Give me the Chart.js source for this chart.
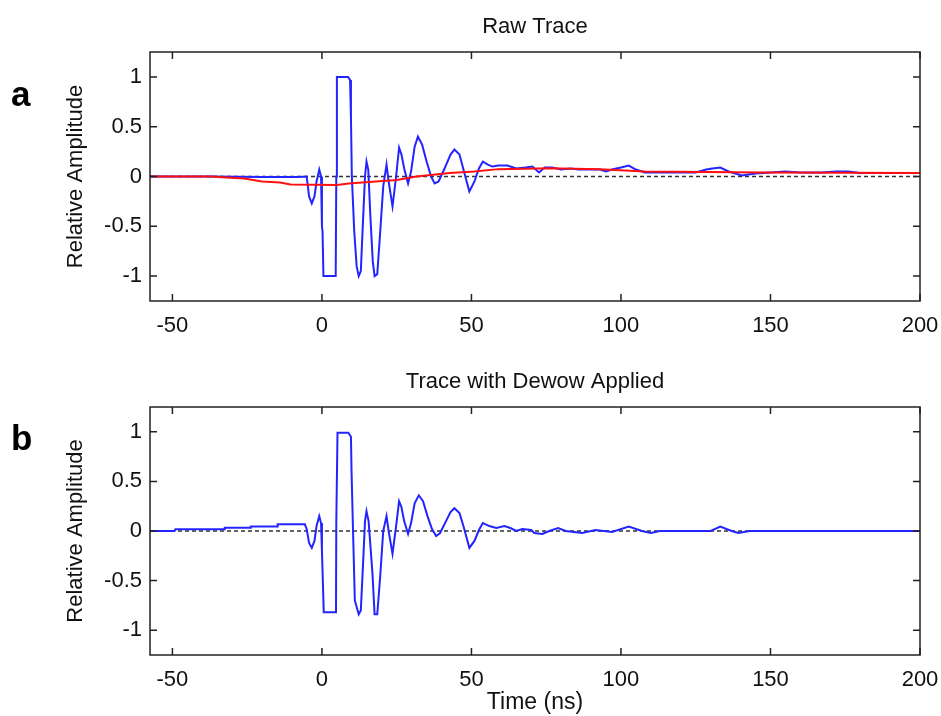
<!DOCTYPE html>
<html>
<head>
<meta charset="utf-8">
<script src="https://cdn.jsdelivr.net/npm/chart.js@4.4.1/dist/chart.umd.min.js"></script>
<style>
  html, body { margin: 0; padding: 0; background: #fff; }
  body { width: 941px; height: 716px; position: relative; overflow: hidden; }
  .wrap { position: absolute; left: 0; width: 941px; height: 358px; }
  .panel { position: absolute; left: 11px; font: bold 35px "Liberation Sans", Arial, sans-serif; color: #000; }
</style>
</head>
<body>
<div class="wrap" style="top:0"><canvas id="c1" width="941" height="358"></canvas></div>
<div class="wrap" style="top:358px"><canvas id="c2" width="941" height="358"></canvas></div>
<div class="panel" style="top:74px">a</div>
<div class="panel" style="top:418px">b</div>
<script>
// ---- data ----
const xRange = [-57.5, 200];
const yRange = [-1.25, 1.25];
const xTicks = [-50, 0, 50, 100, 150, 200];
const yTicks = [-1, -0.5, 0, 0.5, 1];

const timeRaw = [-57.5,-37,-20,-8,-5.1,-4.3,-3.4,-2.5,-1.8,-0.9,-0.3,0,0.2,0.5,4.6,4.8,5.0,8.7,9.4,9.7,10.0,10.8,11.6,12.3,13.0,13.8,14.4,14.9,15.5,16.2,17.0,17.6,18.5,19.5,20.5,21.6,22.3,23.6,24.8,25.8,26.6,27.5,28.8,29.8,31,32.1,33.5,35,36.5,37.7,39,41,43,44.3,46,47.5,49.3,51,52.5,53.8,55.5,57,59,62,65,68,70.4,72.6,74.5,77,80,83,86,89,93,95,97,100,102.6,105,108,113,120,125,128.5,130.5,133.2,136,140.4,145,150,155,160,167,172,176,180,190,200];
const ampRaw = [0,0,-0.005,-0.005,0,-0.2,-0.27,-0.2,-0.05,0.07,0,-0.5,-0.55,-1,-1,0,1,1,0.97,0.59,0,-0.55,-0.9,-1,-0.95,-0.4,0,0.15,0.07,-0.4,-0.85,-1,-0.98,-0.55,-0.1,0.12,-0.05,-0.3,0,0.29,0.22,0.08,-0.07,0.05,0.3,0.4,0.32,0.15,0,-0.07,-0.05,0.08,0.22,0.27,0.22,0.05,-0.15,-0.05,0.08,0.15,0.12,0.1,0.11,0.11,0.08,0.09,0.1,0.04,0.09,0.09,0.07,0.08,0.07,0.07,0.07,0.05,0.07,0.09,0.11,0.07,0.04,0.04,0.04,0.04,0.07,0.08,0.09,0.05,0.01,0.03,0.04,0.05,0.04,0.04,0.05,0.05,0.035,0.035,0.034];

const timeWow = [-57.5,-37,-32,-26,-20,-14,-10.5,5,9,18,25,31.6,42.7,51,59,76,93,108,148,200];
const ampWow = [0,0,-0.01,-0.02,-0.05,-0.06,-0.08,-0.085,-0.07,-0.05,-0.035,0,0.035,0.05,0.074,0.084,0.074,0.05,0.04,0.034];

const timeDewow = [-57.5,-49.3,-49,-32.7,-32.5,-24,-23.8,-15,-14.8,-5.7,-5.1,-4.3,-3.4,-2.5,-1.8,-0.9,-0.3,0,0.2,0.6,4.7,4.8,5.2,8.8,9.7,9.9,10.4,11.0,12.3,13.0,13.8,14.4,14.9,15.6,16.9,17.6,18.5,19.5,20.5,21.6,22.3,23.6,24.8,25.8,26.6,27.5,28.8,29.8,31,32.4,33.8,35.3,36.8,38.2,39.5,41.5,43,44.3,46,47.5,49.3,51,52.5,53.8,56,58.3,61,63,65,67,70,71,73.7,76,79,81.5,87,91.5,97,102.6,107,110,113,130,133.2,137,139.3,143,200];
const ampDewow = [0,0,0.017,0.017,0.033,0.033,0.045,0.045,0.067,0.067,0.02,-0.12,-0.17,-0.1,0.05,0.15,0.08,-0.2,-0.4,-0.82,-0.82,0.07,0.99,0.99,0.95,0.6,0,-0.7,-0.84,-0.8,-0.3,0.1,0.2,0.1,-0.43,-0.84,-0.84,-0.45,0,0.15,0,-0.23,0.05,0.3,0.24,0.1,-0.03,0.08,0.28,0.36,0.3,0.15,0.02,-0.05,-0.02,0.1,0.19,0.23,0.18,0.03,-0.17,-0.1,0.01,0.08,0.05,0.03,0.05,0.03,0,0.02,0.01,-0.02,-0.03,0,0.03,0,-0.02,0.01,-0.01,0.045,0,-0.02,0,0,0.045,0,-0.02,0,0];

const zeroTime = [-57.5, 200];
const zeroAmp = [0, 0];

// ---- helpers ----
function pts(xs, ys) {
  const n = Math.min(xs.length, ys.length);
  const out = [];
  for (let i = 0; i < n; i++) out.push({x: xs[i], y: ys[i]});
  return out;
}
const FONT = '"Liberation Sans", Arial, sans-serif';
const BLUE = '#2424ff', RED = '#ff1010';

const boxPlugin = {
  id: 'matlabBox',
  afterDatasetsDraw(chart) {
    const {ctx, chartArea: a, scales: {x, y}} = chart;
    ctx.save();
    ctx.strokeStyle = '#222';
    ctx.lineWidth = 1.5;
    ctx.beginPath();
    xTicks.forEach(v => {
      const px = x.getPixelForValue(v);
      ctx.moveTo(px, a.bottom); ctx.lineTo(px, a.bottom - 7);
      ctx.moveTo(px, a.top); ctx.lineTo(px, a.top + 7);
    });
    yTicks.forEach(v => {
      const py = y.getPixelForValue(v);
      ctx.moveTo(a.left, py); ctx.lineTo(a.left + 7, py);
      ctx.moveTo(a.right, py); ctx.lineTo(a.right - 7, py);
    });
    ctx.stroke();
    ctx.strokeRect(a.left, a.top, a.right - a.left, a.bottom - a.top);
    ctx.restore();
  }
};

function lineDs(data, color, width, dash) {
  return {
    data: data, borderColor: color, borderWidth: width, borderDash: dash || [],
    pointRadius: 0, tension: 0, fill: false, showLine: true
  };
}

function makeChart(id, datasets, titleText, titlePad, areaBottom, xTitle) {
  return new Chart(document.getElementById(id), {
    type: 'line',
    data: { datasets: datasets },
    plugins: [boxPlugin],
    options: {
      responsive: false,
      animation: false,
      events: [],
      layout: { padding: { left: 0, right: 21, top: 0, bottom: 0 } },
      plugins: {
        legend: { display: false },
        tooltip: { enabled: false },
        title: {
          display: true, fullSize: false, text: titleText, color: '#111',
          font: { family: FONT, size: 22, weight: 'normal', lineHeight: 1.2 },
          padding: titlePad
        }
      },
      scales: {
        x: {
          type: 'linear', min: xRange[0], max: xRange[1],
          grid: { display: true, drawOnChartArea: false, drawTicks: true, tickLength: 12, tickColor: 'rgba(0,0,0,0)' },
          border: { display: false },
          afterBuildTicks: s => { s.ticks = xTicks.map(v => ({value: v})); },
          afterFit: s => { s.height = 358 - areaBottom; },
          ticks: { color: '#111', padding: 0, maxRotation: 0, autoSkip: false,
                   font: { family: FONT, size: 22 }, callback: v => String(v) },
          title: { display: !!xTitle, text: xTitle || '', color: '#111',
                   font: { family: FONT, size: 23 }, padding: { top: 0, bottom: 0 } }
        },
        y: {
          type: 'linear', min: yRange[0], max: yRange[1],
          grid: { display: true, drawOnChartArea: false, drawTicks: true, tickLength: 8, tickColor: 'rgba(0,0,0,0)' },
          border: { display: false },
          afterBuildTicks: s => { s.ticks = yTicks.map(v => ({value: v})); },
          afterFit: s => { s.width = 150; },
          ticks: { color: '#111', padding: 0, autoSkip: false,
                   font: { family: FONT, size: 22 }, callback: v => String(v) },
          title: { display: true, text: 'Relative Amplitude', color: '#111',
                   font: { family: FONT, size: 22, lineHeight: 1.2 }, padding: { top: 63, bottom: 0 } }
        }
      }
    }
  });
}

makeChart('c1', [
  lineDs(pts(timeWow, ampWow), RED, 2),
  lineDs(pts(timeRaw, ampRaw), BLUE, 2),
  lineDs(pts(zeroTime, zeroAmp), '#333', 1.5, [4, 3])
], 'Raw Trace', { top: 13.8, bottom: 11.8 }, 301, null);

makeChart('c2', [
  lineDs(pts(timeDewow, ampDewow), BLUE, 2),
  lineDs(pts(zeroTime, zeroAmp), '#333', 1.5, [4, 3])
], 'Trace with Dewow Applied', { top: 10.8, bottom: 11.8 }, 297, 'Time (ns)');
</script>
</body>
</html>
